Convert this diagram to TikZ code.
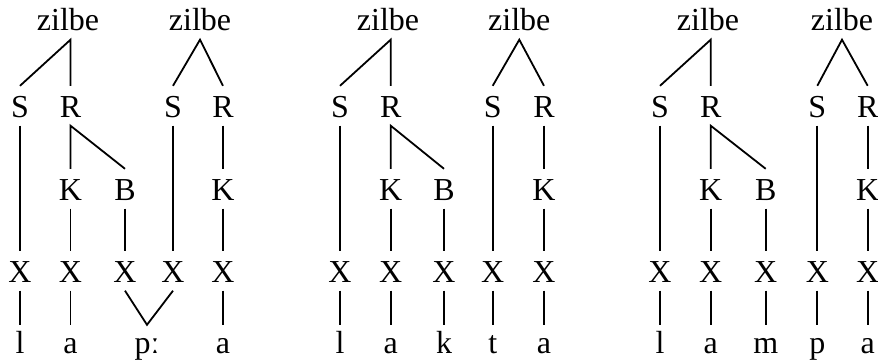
\documentclass[tikz,border=0pt]{standalone}
\usepackage{fontspec}
\setmainfont{Liberation Serif}
\begin{document}
\begin{tikzpicture}[x=1pt,y=-1pt,
  lab/.style={font=\fontsize{32}{32}\selectfont, anchor=base,
    inner xsep=0pt, inner ysep=8.5pt, text height=22.5pt, text depth=0pt},
  seg/.style={lab, text height=19.5pt},
  tie/.style={line width=1.8pt, line cap=butt}]
\useasboundingbox (0,0) rectangle (878,361);

% #1 prefix, #2-#6 column positions, #7 first zilbe x, #8 second zilbe x
\newcommand{\sylltree}[8]{%
  \node[lab] (#1z1) at (#7,31) {zilbe};
  \node[lab] (#1z2) at (#8,31) {zilbe};
  \node[lab] (#1S1) at (#2,117) {S};
  \node[lab] (#1R1) at (#3,117) {R};
  \node[lab] (#1S2) at (#5,117) {S};
  \node[lab] (#1R2) at (#6,117) {R};
  \node[lab] (#1K1) at (#3,200) {K};
  \node[lab] (#1B1) at (#4,200) {B};
  \node[lab] (#1K2) at (#6,200) {K};
  \node[lab] (#1X1) at (#2,282) {X};
  \node[lab] (#1X2) at (#3,282) {X};
  \node[lab] (#1X3) at (#4,282) {X};
  \node[lab] (#1X4) at (#5,282) {X};
  \node[lab] (#1X5) at (#6,282) {X};
  \coordinate (#1top) at (#1z1.south -| #1R1);
  \draw[tie] (#1S1.north) -- (#1top) -- (#1R1.north);
  \draw[tie] (#1S2.north) -- (#1z2.south) -- (#1R2.north);
  \draw[tie] (#1K1.north) -- (#1R1.south) -- (#1B1.north);
  \draw[tie] (#1R2.south) -- (#1K2.north);
  \draw[tie] (#1S1.south) -- (#1X1.north);
  \draw[tie] (#1K1.south) -- (#1X2.north);
  \draw[tie] (#1B1.south) -- (#1X3.north);
  \draw[tie] (#1S2.south) -- (#1X4.north);
  \draw[tie] (#1K2.south) -- (#1X5.north);
}

% lappa
\sylltree{a}{20}{70.5}{125}{173}{223}{68}{200}
\node[seg] (al) at (20,353) {l};
\node[seg] (aa) at (70.5,353) {a};
\node[seg] (ap) at (147,353) {pː};
\node[seg] (ab) at (223,353) {a};
\draw[tie] (aX1.south) -- (al.north);
\draw[tie] (aX2.south) -- (aa.north);
\draw[tie] (aX3.south) -- (ap.north) -- (aX4.south);
\draw[tie] (aX5.south) -- (ab.north);

% lakta
\sylltree{b}{340}{390.7}{444}{492.7}{544}{388}{519.3}
\node[seg] (bl) at (340,353) {l};
\node[seg] (ba) at (390.7,353) {a};
\node[seg] (bk) at (444,353) {k};
\node[seg] (bt) at (492.7,353) {t};
\node[seg] (bb) at (544,353) {a};
\draw[tie] (bX1.south) -- (bl.north);
\draw[tie] (bX2.south) -- (ba.north);
\draw[tie] (bX3.south) -- (bk.north);
\draw[tie] (bX4.south) -- (bt.north);
\draw[tie] (bX5.south) -- (bb.north);

% lampa
\sylltree{c}{660}{710.7}{765.7}{817.3}{867.7}{708}{842}
\node[seg] (cl) at (660,353) {l};
\node[seg] (ca) at (710.7,353) {a};
\node[seg] (cm) at (765.7,353) {m};
\node[seg] (cp) at (817.3,353) {p};
\node[seg] (cb) at (867.7,353) {a};
\draw[tie] (cX1.south) -- (cl.north);
\draw[tie] (cX2.south) -- (ca.north);
\draw[tie] (cX3.south) -- (cm.north);
\draw[tie] (cX4.south) -- (cp.north);
\draw[tie] (cX5.south) -- (cb.north);
\end{tikzpicture}
\end{document}
